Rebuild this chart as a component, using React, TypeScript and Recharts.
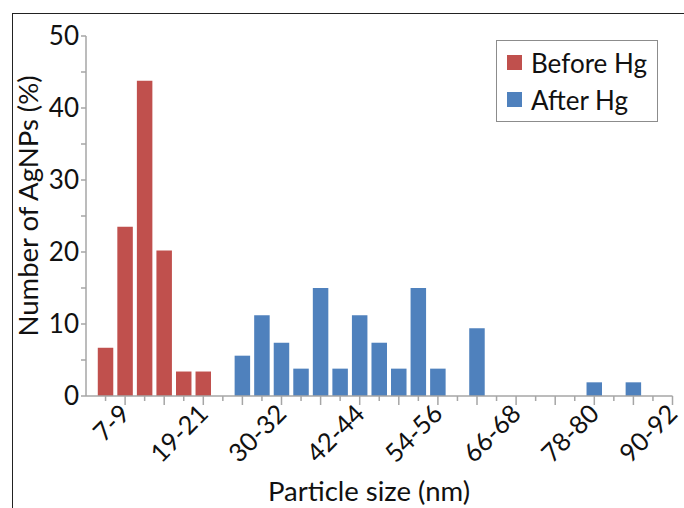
import React from 'react';
import { BarChart, Bar, XAxis, YAxis, Legend, Label } from 'recharts';

const categories = ['4-6','7-9','10-12','13-15','16-18','19-21','22-24','25-27','28-29','30-32','33-35','36-38','39-41','42-44','45-47','48-50','51-53','54-56','57-59','60-62','63-65','66-68','69-71','72-74','75-77','78-80','81-83','84-86','87-89','90-92'];
const shownLabels = ['7-9','19-21','30-32','42-44','54-56','66-68','78-80','90-92'];
const beforeHg: (number | null)[] = [6.7, 23.5, 43.8, 20.2, 3.4, 3.4, null, null, null, null, null, null, null, null, null, null, null, null, null, null, null, null, null, null, null, null, null, null, null, null];
const afterHg: (number | null)[] = [null, null, null, null, null, null, null, 5.6, 11.2, 7.4, 3.8, 15.0, 3.8, 11.2, 7.4, 3.8, 15.0, 3.8, null, 9.4, null, null, null, null, null, 1.9, null, 1.9, null, null];
const yTicks = [0, 5, 10, 15, 20, 25, 30, 35, 40, 45, 50];

const data = categories.map((c, i) => ({ idx: i, label: c, before: beforeHg[i], after: afterHg[i] }));
const xTicks = categories.map((_, i) => i);

const FONT = 'Lato, "Open Sans", sans-serif';
const AXIS = '#a6a6a6';
const RED = '#c0504d';
const BLUE = '#4f81bd';

const XTick = (props: any) => {
  const { x, y, payload } = props;
  const i = payload.value as number;
  const lab = categories[i];
  const long = i % 2 === 1;
  const show = shownLabels.includes(lab);
  const ax = x + 1;
  const ay = y + 14;
  return (
    <g>
      <line x1={x} x2={x} y1={y} y2={y + (long ? 9 : 5)} stroke={AXIS} strokeWidth={1.5} />
      {show && (
        <text x={ax} y={ay} dy="0.3em" textAnchor="end" transform={`rotate(-45 ${ax} ${ay})`} fontFamily={FONT} fontSize={25.5} fill="#111">
          {lab}
        </text>
      )}
    </g>
  );
};

const LegendBox = () => (
  <div style={{ width: 162, height: 82, border: '1px solid #8c8c8c', boxSizing: 'border-box', background: '#fff', fontFamily: FONT, fontSize: 26, color: '#111', padding: '3px 0 0 10px' }}>
    {[{ n: 'Before Hg', c: RED }, { n: 'After Hg', c: BLUE }].map((it) => (
      <div key={it.n} style={{ display: 'flex', alignItems: 'center', height: 37 }}>
        <span style={{ display: 'inline-block', width: 15, height: 15, background: it.c, marginRight: 9 }} />
        <span>{it.n}</span>
      </div>
    ))}
  </div>
);

export default function App() {
  return (
    <div style={{ position: 'absolute', left: 0, top: 0, width: 684, height: 508, overflow: 'hidden', background: '#fff' }}>
      <div style={{ position: 'absolute', left: 12, top: 13, width: 700, height: 600, borderTop: '1.5px solid #222', borderLeft: '1.5px solid #222' }} />
      <BarChart width={684} height={508} data={data} margin={{ top: 36, right: 11.5, bottom: 32, left: 26 }} barSize={15.5}>
        <XAxis
          dataKey="idx"
          type="number"
          domain={[-1, 29]}
          ticks={xTicks}
          interval={0}
          allowDecimals={false}
          height={80}
          tickSize={0}
          tickMargin={0}
          tickLine={false}
          axisLine={{ stroke: AXIS, strokeWidth: 1.5 }}
          tick={<XTick />}
        >
          <Label
            content={() => (
              <text x={369} y={501} textAnchor="middle" fontFamily={FONT} fontSize={27.5} fill="#111">
                Particle size (nm)
              </text>
            )}
          />
        </XAxis>
        <YAxis
          type="number"
          domain={[0, 50]}
          ticks={yTicks}
          interval={0}
          width={60}
          tickSize={5}
          tickMargin={2}
          tickLine={{ stroke: AXIS, strokeWidth: 1.5 }}
          axisLine={{ stroke: AXIS, strokeWidth: 1.5 }}
          tickFormatter={(v: number) => (v % 10 === 0 ? String(v) : '')}
          tick={{ fontFamily: FONT, fontSize: 26, fill: '#111' }}
        >
          <Label
            content={() => (
              <text x={27} y={206} transform="rotate(-90 27 206)" textAnchor="middle" dominantBaseline="central" fontFamily={FONT} fontSize={27.5} fill="#111">
                Number of AgNPs (%)
              </text>
            )}
          />
        </YAxis>
        <Legend
          layout="horizontal"
          verticalAlign="middle"
          align="center"
          wrapperStyle={{ position: 'absolute', left: 496, top: 40, width: 162, height: 82 }}
          content={() => <LegendBox />}
        />
        <Bar dataKey="before" stackId="s" fill={RED} isAnimationActive={false} />
        <Bar dataKey="after" stackId="s" fill={BLUE} isAnimationActive={false} />
      </BarChart>
    </div>
  );
}
